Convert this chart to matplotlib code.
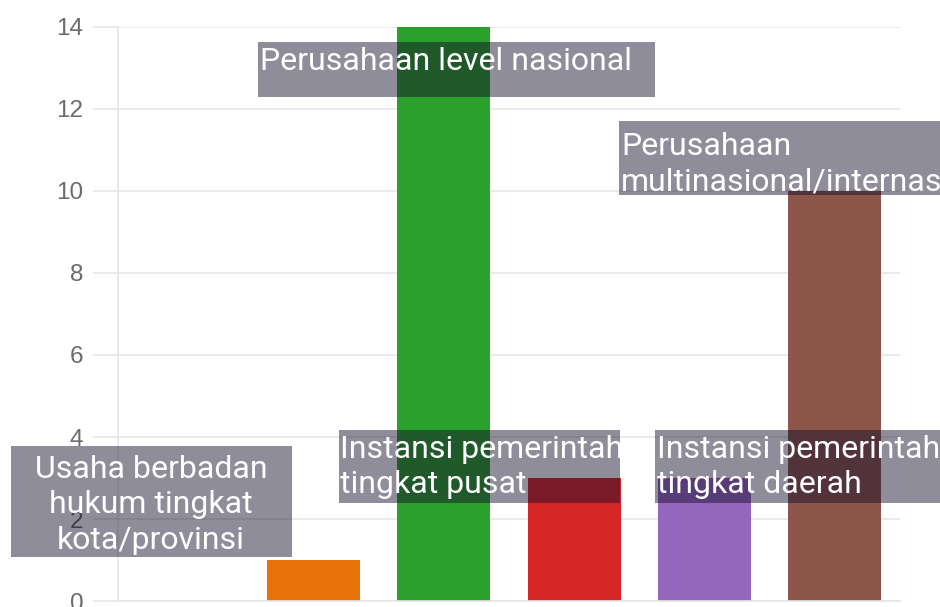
import matplotlib
matplotlib.use("Agg")
import matplotlib.pyplot as plt
from matplotlib.patches import Rectangle

plt.rcParams['font.family'] = ['Roboto', 'DejaVu Sans']

categories = ["", "Usaha berbadan hukum tingkat kota/provinsi", "Perusahaan level nasional",
              "Instansi pemerintah tingkat pusat", "Instansi pemerintah tingkat daerah",
              "Perusahaan multinasional/internasional"]
values = [0, 1, 14, 3, 3, 10]
colors = ["#1f77b4", "#e8710a", "#2ca02c", "#d62728", "#9467bd", "#8c564b"]
yticks = [0, 2, 4, 6, 8, 10, 12, 14]

# label boxes (x0, x1, y0, y1) in data units, text lines, text x / first baseline / align
label_lines = [
    ["Usaha berbadan", "hukum tingkat", "kota/provinsi"],
    ["Perusahaan level nasional"],
    ["Instansi pemerintah", "tingkat pusat"],
    ["Instansi pemerintah", "tingkat daerah"],
    ["Perusahaan", "multinasional/internasional"],
]
label_boxes = [(-1.321, 0.835, 1.073, 3.78), (0.574, 3.62, 12.29, 13.63),
               (1.196, 3.352, 2.39, 4.17), (3.62, 6.5, 2.39, 4.17),
               (3.344, 7.0, 9.90, 11.71)]
label_text_pos = [(-0.247, 3.0, "center"), (0.590, 12.95, "left"),
                  (1.203, 3.49, "left"), (3.636, 3.49, "left"), (3.36, 10.88, "left")]
line_step = 0.86

fig = plt.figure(figsize=(9.4, 6.07), dpi=100)
ax = fig.add_axes([118 / 940, 6 / 607, 782 / 940, 574 / 607])

x = list(range(len(categories)))
ax.bar(x, values, width=0.715, color=colors, zorder=2)

ax.set_xlim(-0.5, 5.5)
ax.set_ylim(0, 14)
ax.set_yticks(yticks)
ax.set_xticks([])
ax.grid(axis="y", color="#e6e6e6", linewidth=1.2, zorder=0)
ax.tick_params(axis="y", length=18, color="#e6e6e6", width=1.2, labelsize=17.5,
               labelcolor="#6b6b6b", pad=7)
for lbl in ax.get_yticklabels():
    lbl.set_fontfamily("Liberation Sans")
for s in ["top", "right"]:
    ax.spines[s].set_visible(False)
for s in ["left", "bottom"]:
    ax.spines[s].set_color("#e6e6e6")
    ax.spines[s].set_linewidth(1.2)

for lines, box, (tx, ty, ha) in zip(label_lines, label_boxes, label_text_pos):
    x0, x1, y0, y1 = box
    ax.add_patch(Rectangle((x0, y0), x1 - x0, y1 - y0, facecolor=(0.08, 0.05, 0.17),
                           alpha=0.47, linewidth=0, clip_on=False, zorder=3))
    for i, line in enumerate(lines):
        ax.text(tx, ty - i * line_step, line, ha=ha, va="baseline", color="white",
                fontsize=23, clip_on=False, zorder=4)

fig.savefig("out.png", dpi=100)
